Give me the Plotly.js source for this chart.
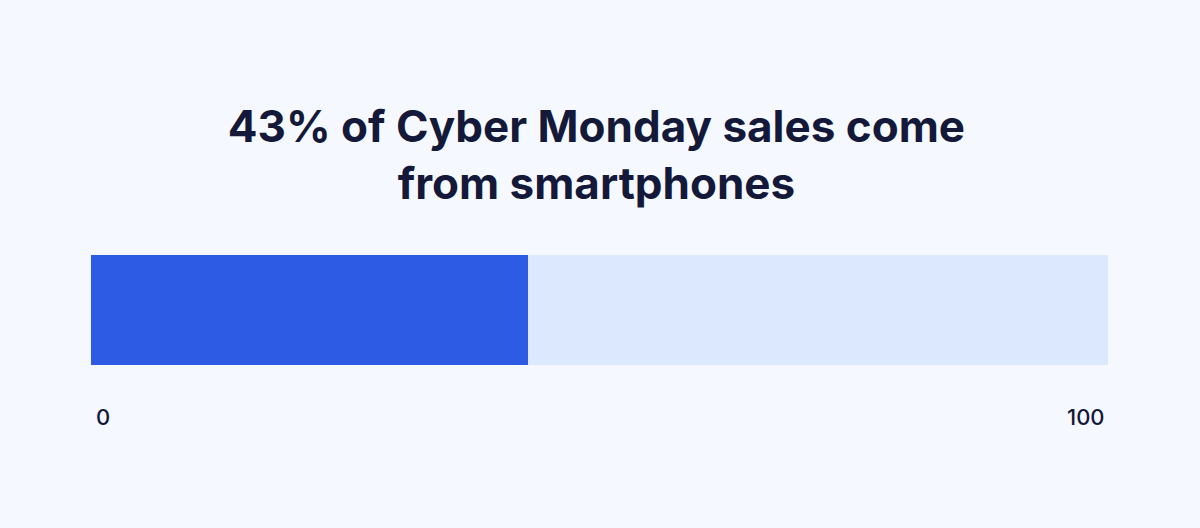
<!DOCTYPE html>
<html>
<head>
<meta charset="utf-8">
<script src="https://cdn.plot.ly/plotly-3.0.1.min.js"></script>
<style>html,body{margin:0;padding:0;background:#f5f9ff;}#chart{width:1200px;height:528px;}</style>
</head>
<body>
<div id="chart"></div>
<script>
const titleText = "43% of Cyber Monday sales come<br>from smartphones";
const category = ["Cyber Monday"];
const smartphoneShare = [43];
const otherShare = [57];
const tickValues = [0, 100];
const tickLabels = ["0", "100"];

const traces = [
  {type: "bar", orientation: "h", y: category, x: smartphoneShare, width: 1,
   marker: {color: "#2d5be3"}, hoverinfo: "skip", showlegend: false},
  {type: "bar", orientation: "h", y: category, x: otherShare, width: 1,
   marker: {color: "#dce8fd"}, hoverinfo: "skip", showlegend: false}
];

const annotations = tickValues.map((v, i) => ({
  x: v, xref: "x", y: 0, yref: "paper",
  text: tickLabels[i], showarrow: false,
  xanchor: i === 0 ? "left" : "right", yanchor: "middle",
  xshift: i === 0 ? 3 : -1, yshift: -52,
  font: {family: "Inter, 'Open Sans', sans-serif", size: 22, color: "#14193a", weight: 500}
}));

const layout = {
  width: 1200, height: 528,
  paper_bgcolor: "#f5f9ff", plot_bgcolor: "#f5f9ff",
  margin: {l: 91, r: 92, t: 255, b: 163},
  barmode: "stack", bargap: 0,
  title: {text: titleText, x: 0.497, xanchor: "center", y: 0.732, yanchor: "middle",
          font: {family: "Inter, 'Open Sans', sans-serif", size: 44, color: "#14193a", weight: 700}},
  xaxis: {range: [0, 100], showgrid: false, zeroline: false, showticklabels: false, fixedrange: true},
  yaxis: {range: [-0.5, 0.5], showgrid: false, zeroline: false, showticklabels: false, fixedrange: true},
  annotations: annotations
};

Plotly.newPlot("chart", traces, layout, {displayModeBar: false, staticPlot: true});
</script>
</body>
</html>
